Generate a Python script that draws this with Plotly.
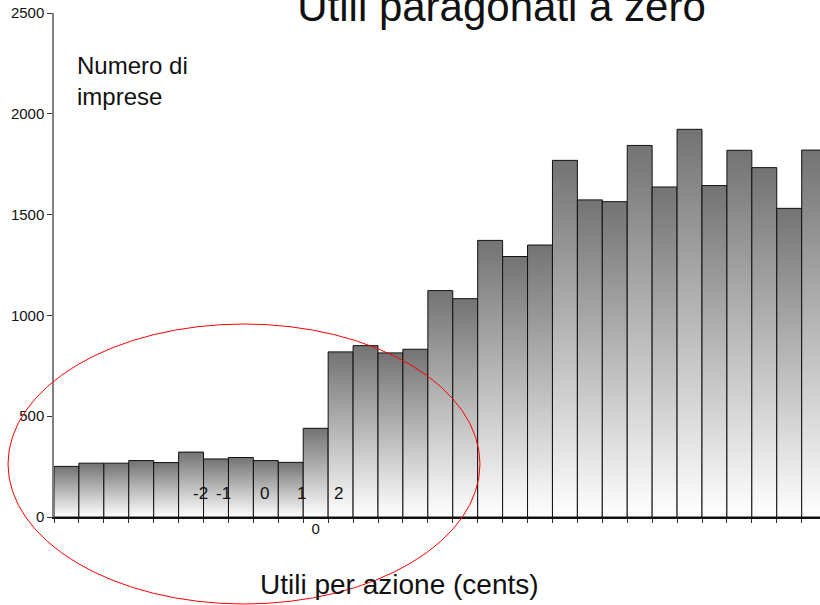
import plotly.graph_objects as go

# Data
cents = list(range(-10, 21))
imprese = [251, 267, 267, 280, 270, 322, 288, 295, 280, 271,
           440, 819, 850, 814, 832, 1123, 1083, 1372, 1292, 1349,
           1769, 1573, 1564, 1843, 1637, 1923, 1644, 1819, 1733, 1531, 1820]
inner_labels = ["-2", "-1", "0", "1", "2"]
inner_label_x = [-4.62, -3.71, -2.04, -0.56, 0.93]
y_ticks = [0, 500, 1000, 1500, 2000, 2500]

FONT = "Liberation Sans, Arial, sans-serif"

fig = go.Figure()
for c, v in zip(cents, imprese):
    fig.add_trace(go.Scatter(
        x=[c - 0.5, c - 0.5, c + 0.5, c + 0.5, c - 0.5],
        y=[0, v, v, 0, 0],
        mode="lines",
        fill="toself",
        fillgradient=dict(type="vertical",
                          colorscale=[[0, "#ffffff"], [1, "#737373"]],
                          start=0, stop=v),
        line=dict(color="#111111", width=1),
        hoverinfo="skip",
        showlegend=False,
    ))

for t, xv in zip(inner_labels, inner_label_x):
    fig.add_annotation(x=xv, y=119, xref="x", yref="y", text=t, showarrow=False,
                       font=dict(family=FONT, size=17, color="#111"),
                       xanchor="center", yanchor="middle")

fig.add_annotation(x=(75 - 54) / 766, y=(517 - 50) / 504, xref="paper", yref="paper",
                   text="Numero di<br>imprese", showarrow=False, align="left",
                   xanchor="left", yanchor="top",
                   font=dict(family=FONT, size=24, color="#111"))

fig.add_annotation(x=(399 - 54) / 766, y=(517 - 584) / 504, xref="paper", yref="paper",
                   text="Utili per azione (cents)", showarrow=False,
                   xanchor="center", yanchor="middle",
                   font=dict(family=FONT, size=28, color="#111"))

# red ellipse
fig.add_shape(type="circle", xref="paper", yref="paper",
              x0=(8 - 54) / 766, x1=(480 - 54) / 766,
              y0=(517 - 604) / 504, y1=(517 - 324) / 504,
              line=dict(color="#ff0000", width=1), layer="above")

fig.update_layout(
    width=820, height=605,
    margin=dict(l=54, r=0, t=13, b=88),
    paper_bgcolor="white", plot_bgcolor="white",
    title=dict(text="Utili paragonati a zero", x=501.5 / 820, xanchor="center",
               y=1 - 6 / 605, yanchor="middle", yref="container",
               font=dict(family=FONT, size=42, color="#111")),
    xaxis=dict(range=[cents[0] - 0.5, cents[0] - 0.5 + 766 / 24.923],
               showgrid=False, zeroline=False,
               showline=True, linecolor="#111", linewidth=1.5,
               tickmode="array", tickvals=[0], ticktext=["0"], ticks="",
               ticklabelstandoff=-3,
               tickfont=dict(family=FONT, size=15, color="#111"),
               minor=dict(tickmode="array",
                          tickvals=[c - 0.5 for c in cents],
                          ticks="outside", ticklen=4, tickcolor="#333", tickwidth=1)),
    yaxis=dict(range=[0, 2500], showgrid=False, zeroline=False,
               showline=True, linecolor="#808080", linewidth=1.5,
               tickmode="array", tickvals=y_ticks, ticks="outside", ticklen=5,
               tickcolor="#333", tickwidth=1,
               tickfont=dict(family=FONT, size=15, color="#111")),
)

fig.write_html("out.html", config={"displayModeBar": False},
               post_script="document.body.style.margin='0';document.body.style.padding='0';")
